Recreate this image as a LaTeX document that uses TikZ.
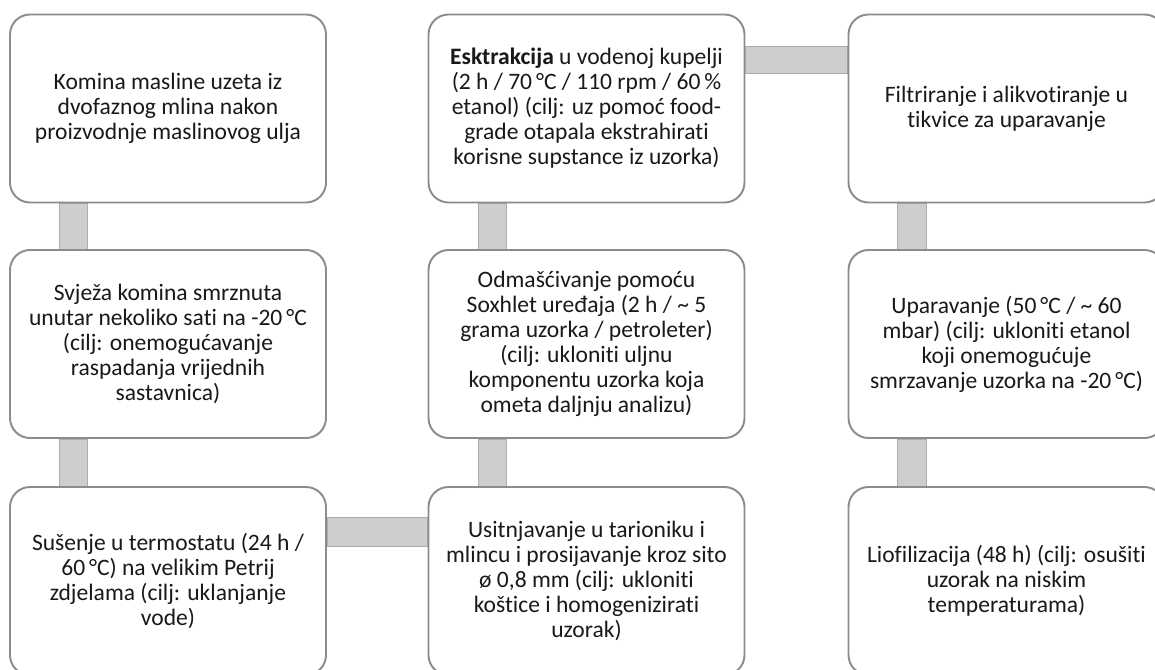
\documentclass[tikz,border=0pt]{standalone}
\usepackage{fontspec}
\setmainfont{Carlito}[Ligatures=NoCommon, RawFeature={-calt;-clig}]
\usetikzlibrary{calc,backgrounds}
\definecolor{boxline}{RGB}{140,140,140}
\definecolor{linkfill}{RGB}{206,206,206}
\definecolor{linkline}{RGB}{172,172,172}
\tikzset{
    box/.style={draw=boxline, fill=white, line width=1.1pt, rounded corners=0.4cm,
                minimum width=6.32cm, minimum height=3.76cm, inner sep=4pt,
                align=center, text=black!90,
                font=\fontsize{13.4}{14.2}\selectfont},
    link/.style={fill=linkfill, draw=linkline, line width=0.4pt},
}

\begin{document}
\begin{tikzpicture}

    \useasboundingbox (0,0) rectangle (23.1,-13.4);

    \node[box] (komina) at (3.36,-2.17) {Komina masline uzeta iz\\dvofaznog mlina nakon\\proizvodnje maslinovog ulja};
    \node[box] (ekstrakcija) at (11.73,-2.17) {\textbf{Esktrakcija} u vodenoj kupelji\\(2 h / 70\,°C / 110 rpm / 60\,\%\\etanol) (cilj: uz pomoć food-\\grade otapala ekstrahirati\\korisne supstance iz uzorka)};
    \node[box] (filtriranje) at (20.13,-2.17) {Filtriranje i alikvotiranje u\\tikvice za uparavanje};

    \node[box] (svjeza) at (3.36,-6.88) {Svježa komina smrznuta\\unutar nekoliko sati na -20\,°C\\(cilj: onemogućavanje\\raspadanja vrijednih\\sastavnica)};
    \node[box] (odmascivanje) at (11.73,-6.88) {Odmašćivanje pomoću\\Soxhlet uređaja (2 h / \textasciitilde{} 5\\grama uzorka / petroleter)\\(cilj: ukloniti uljnu\\komponentu uzorka koja\\ometa daljnju analizu)};
    \node[box] (uparavanje) at (20.13,-6.88) {Uparavanje (50\,°C / \textasciitilde{} 60\\mbar) (cilj: ukloniti etanol\\koji onemogućuje\\smrzavanje uzorka na -20\,°C)};

    \node[box] (susenje) at (3.36,-11.62) {Sušenje u termostatu (24 h /\\60\,°C) na velikim Petrij\\zdjelama (cilj: uklanjanje\\vode)};
    \node[box] (usitnjavanje) at (11.73,-11.62) {Usitnjavanje u tarioniku i\\mlincu i prosijavanje kroz sito\\ø 0,8 mm (cilj: ukloniti\\koštice i homogenizirati\\uzorak)};
    \node[box] (liofilizacija) at (20.13,-11.62) {Liofilizacija (48 h) (cilj: osušiti\\uzorak na niskim\\temperaturama)};

    \begin{scope}[on background layer]
        % vertical links
        \draw[link] ($(komina.south west)+(1.0,0)$) rectangle ($(svjeza.north west)+(1.56,0)$);
        \draw[link] ($(svjeza.south west)+(1.0,0)$) rectangle ($(susenje.north west)+(1.56,0)$);
        \draw[link] ($(ekstrakcija.south west)+(1.02,0)$) rectangle ($(odmascivanje.north west)+(1.58,0)$);
        \draw[link] ($(odmascivanje.south west)+(1.02,0)$) rectangle ($(usitnjavanje.north west)+(1.58,0)$);
        \draw[link] ($(filtriranje.south west)+(1.0,0)$) rectangle ($(uparavanje.north west)+(1.58,0)$);
        \draw[link] ($(uparavanje.south west)+(1.0,0)$) rectangle ($(liofilizacija.north west)+(1.58,0)$);
        % horizontal links
        \draw[link] ($(ekstrakcija.north east)+(0,-0.66)$) rectangle ($(filtriranje.north west)+(0,-1.2)$);
        \draw[link] ($(susenje.north east)+(0,-0.62)$) rectangle ($(usitnjavanje.north west)+(0,-1.2)$);
    \end{scope}

\end{tikzpicture}
\end{document}
